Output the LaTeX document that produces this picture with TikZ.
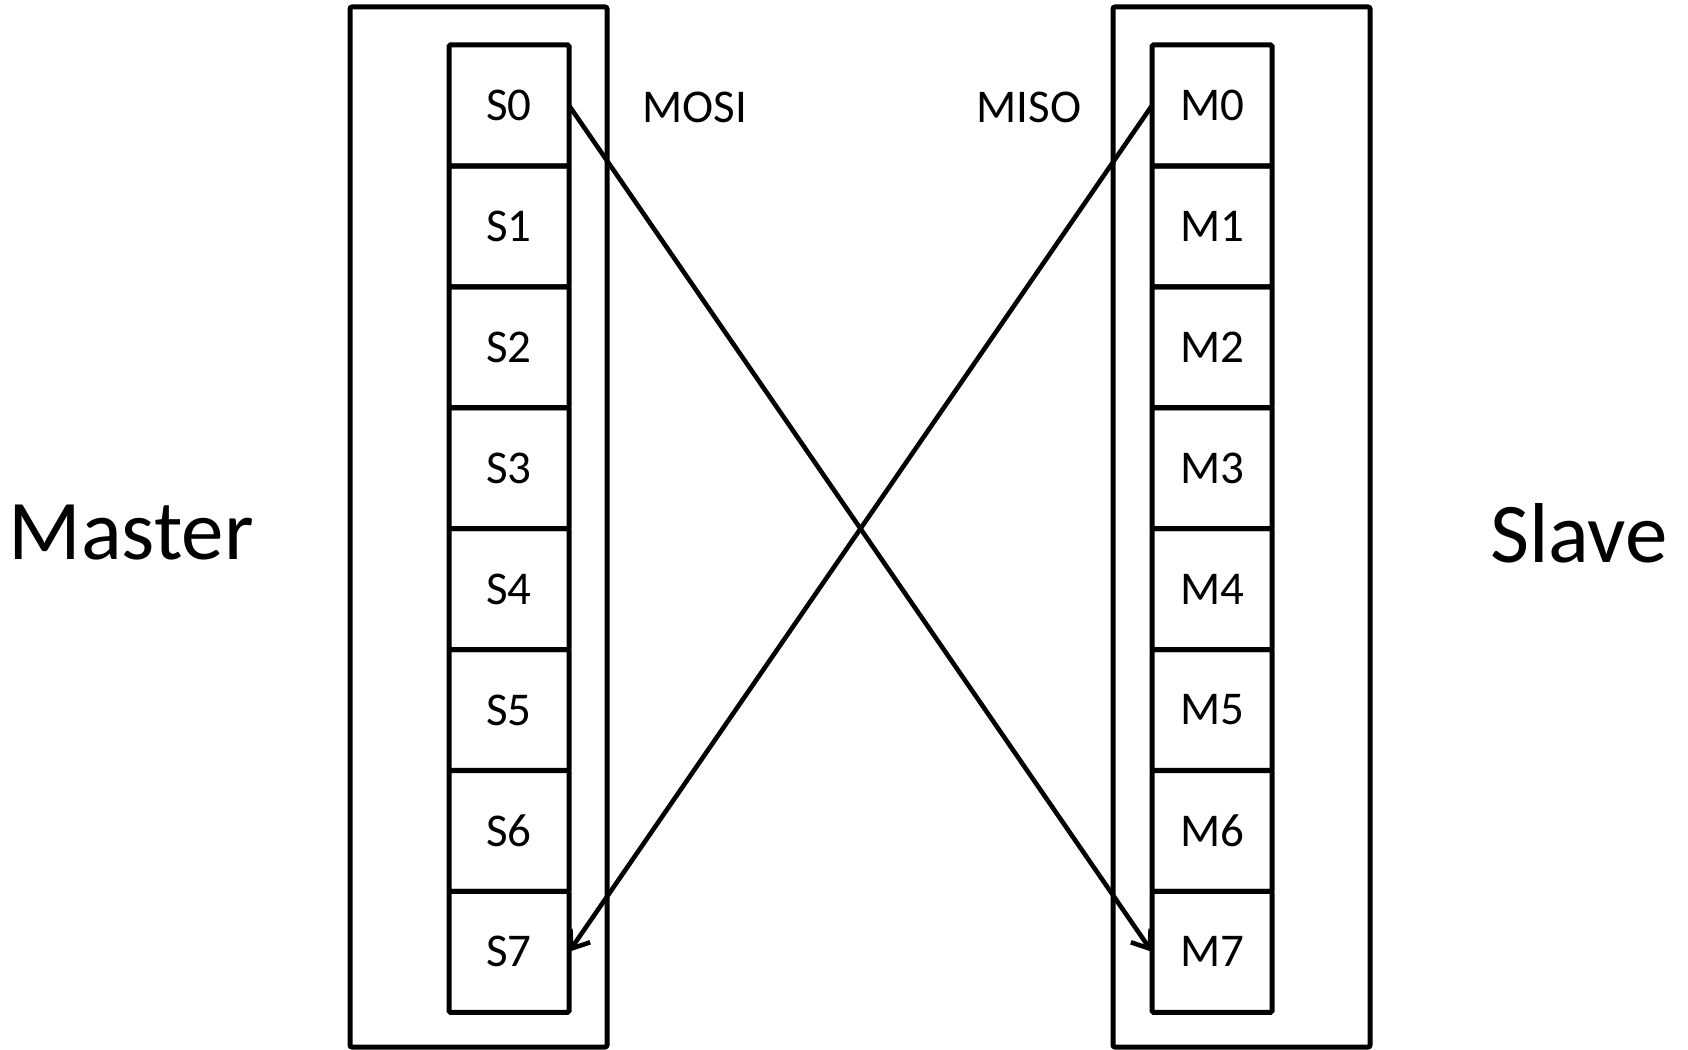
\documentclass[tikz,border=0pt]{standalone}
\usepackage{fontspec}
\setmainfont{Carlito}
\usetikzlibrary{arrows.meta}
\begin{document}
\begin{tikzpicture}[x=1pt,y=-1pt,
  every node/.style={inner sep=0pt,outer sep=0pt},
  cell/.style={draw,line width=5pt,minimum width=120pt,minimum height=121pt,
    font=\fontsize{47}{50}\selectfont,rounded corners=1.5pt},
  frame/.style={draw,line width=5pt,minimum width=257pt,minimum height=1040pt,rounded corners=2pt},
  lbl/.style={font=\fontsize{47}{50}\selectfont},
  side/.style={font=\fontsize{85}{90}\selectfont},
  link/.style={line width=4.6pt,-{Straight Barb[length=16pt,width=24pt,line width=4.6pt]}}]
\useasboundingbox (0,0) rectangle (1688,1049);
% enclosing frames
\node[frame] (mframe) at (478.5,527) {};
\node[frame] (sframe) at (1241.5,527) {};
% shift register cells
\foreach \i in {0,...,7}{
  \node[cell] (S\i) at (509,{105.5+\i*120.9}) {S\i};
  \node[cell] (M\i) at (1212,{105.5+\i*120.9}) {M\i};
}
% side labels
\node[side] (master) at (131,533) {Master};
\node[side] (slave) at (1579,533) {Slave};
\node[lbl] (mosi) at (695,107) {MOSI};
\node[lbl] (miso) at (1029,107) {MISO};
% data lines
\draw[link] (S0.east) -- (M7.west);
\draw[link] (M0.west) -- (S7.east);
\end{tikzpicture}
\end{document}
